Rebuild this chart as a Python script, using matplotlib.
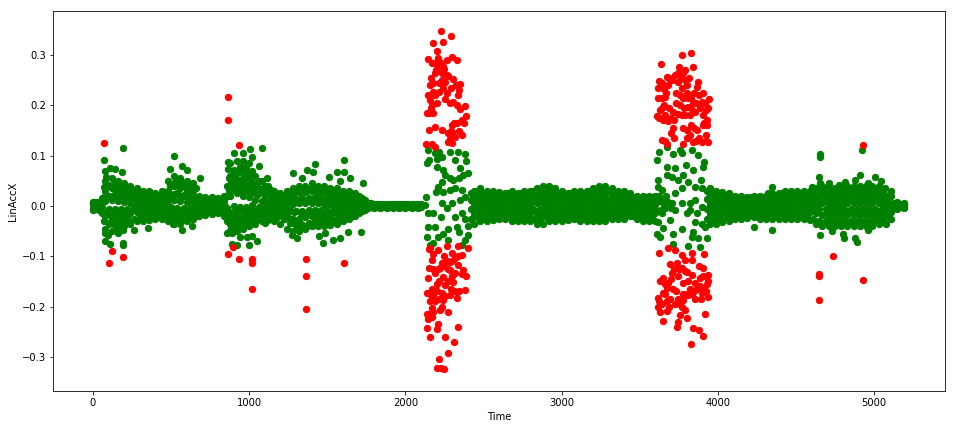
import matplotlib
matplotlib.use("Agg")
import matplotlib.pyplot as plt

# Dense band of green points, read as columns of values at sampled times
band_time = list(range(0, 2081, 40)) + list(range(2440, 3601, 40)) + list(range(3950, 5191, 40))
band_top = [.008,.008,.05,.055,.05,.045,.04,.035,.03,.03,.025,.03,.05,.06,.055,.05,.045,.02,.018,.017,.015,.02,.085,.09,.09,.085,.06,.05,.04,.03,.025,.03,.035,.04,.04,.045,.04,.04,.035,.035,.03,.03,.025,.015,.006,.004,.004,.004,.004,.004,.004,.004,.004,
            .03,.035,.03,.03,.028,.025,.03,.025,.03,.03,.035,.04,.04,.035,.03,.025,.03,.03,.03,.035,.04,.04,.035,.03,.03,.025,.02,.02,.02,.02,
            .035,.03,.028,.025,.02,.02,.018,.02,.02,.02,.025,.025,.03,.03,.03,.03,.03,.035,.04,.04,.035,.04,.04,.04,.04,.04,.04,.04,.035,.03,.008,.005]
band_upper = [.005,.005,.03,.035,.03,.03,.025,.022,.02,.02,.015,.02,.03,.04,.035,.03,.03,.012,.012,.01,.01,.012,.06,.065,.065,.06,.04,.033,.027,.02,.016,.02,.023,.027,.027,.03,.027,.027,.023,.023,.02,.02,.016,.01,.004,.002,.002,.002,.002,.002,.002,.002,.002,
              .02,.022,.02,.02,.018,.016,.02,.016,.02,.02,.022,.025,.025,.022,.02,.016,.02,.02,.02,.022,.025,.025,.022,.02,.02,.016,.012,.012,.012,.012,
              .022,.02,.018,.016,.012,.012,.012,.012,.012,.012,.016,.016,.02,.02,.02,.02,.02,.022,.025,.025,.022,.025,.025,.025,.025,.025,.025,.025,.022,.02,.005,.003]
band_center = [.003,.002,.01,.012,.01,.008,.006,.005,.004,.006,.005,.006,.01,.012,.01,.008,.008,.004,.004,.004,.003,.003,.02,.025,.02,.018,.012,.01,.006,.004,.003,.004,.004,.005,.005,.005,.005,.004,.004,.003,.003,.003,.003,.002,.001,.001,.001,.001,.001,.001,.001,.001,.001,
               .004,.005,.004,.004,.003,.003,.004,.003,.004,.004,.005,.006,.005,.005,.004,.003,.004,.004,.004,.004,.005,.005,.004,.004,.003,.003,.002,.002,.002,.002,
               .004,.003,.003,.002,.002,.001,.001,.001,.001,.002,.002,.003,.003,.003,.003,.003,.003,.004,.005,.004,.004,.004,.005,.005,.005,.005,.005,.005,.004,.004,.002,.001]
band_lower = [-.004,-.003,-.02,-.025,-.02,-.02,-.015,-.012,-.012,-.012,-.01,-.012,-.015,-.018,-.018,-.015,-.012,-.008,-.008,-.007,-.006,-.008,-.02,-.022,-.02,-.018,-.016,-.014,-.012,-.012,-.015,-.02,-.025,-.025,-.022,-.02,-.02,-.02,-.018,-.016,-.014,-.012,-.01,-.005,-.002,-.001,-.001,-.001,-.001,-.001,-.001,-.001,-.001,
              -.016,-.014,-.014,-.013,-.012,-.012,-.014,-.014,-.014,-.014,-.016,-.016,-.014,-.014,-.014,-.013,-.012,-.014,-.014,-.014,-.014,-.014,-.012,-.012,-.012,-.01,-.012,-.014,-.014,-.014,
              -.016,-.016,-.015,-.014,-.012,-.012,-.011,-.011,-.012,-.012,-.012,-.012,-.012,-.012,-.012,-.012,-.012,-.015,-.018,-.018,-.018,-.018,-.018,-.018,-.018,-.018,-.018,-.016,-.016,-.012,-.003,-.002]
band_bottom = [-.008,-.008,-.045,-.05,-.045,-.04,-.035,-.03,-.03,-.028,-.025,-.025,-.03,-.035,-.035,-.03,-.025,-.02,-.018,-.016,-.015,-.02,-.05,-.05,-.045,-.04,-.035,-.03,-.028,-.03,-.035,-.045,-.05,-.05,-.045,-.04,-.04,-.04,-.038,-.035,-.03,-.025,-.02,-.01,-.005,-.004,-.004,-.004,-.004,-.004,-.004,-.004,-.004,
               -.035,-.03,-.03,-.028,-.025,-.025,-.03,-.03,-.03,-.03,-.035,-.035,-.03,-.03,-.03,-.028,-.025,-.03,-.03,-.03,-.03,-.03,-.025,-.025,-.025,-.02,-.025,-.03,-.03,-.03,
               -.035,-.035,-.032,-.03,-.025,-.025,-.024,-.022,-.025,-.025,-.025,-.025,-.025,-.025,-.025,-.025,-.028,-.035,-.04,-.04,-.04,-.04,-.04,-.04,-.04,-.04,-.04,-.035,-.033,-.025,-.006,-.004]

# Second set of columns, lying between the columns and rows above
fill_time = list(range(20, 2101, 40)) + list(range(2420, 3581, 40)) + list(range(3930, 5171, 40))
fill_high = [.007,.015,.042,.045,.04,.037,.032,.028,.026,.024,.02,.028,.042,.05,.045,.04,.035,.016,.014,.014,.012,.04,.072,.078,.078,.07,.05,.04,.032,.024,.02,.026,.03,.033,.034,.036,.033,.032,.03,.028,.026,.024,.02,.012,.005,.003,.003,.003,.003,.003,.003,.003,.003,
             .025,.03,.026,.025,.024,.022,.026,.022,.026,.027,.03,.034,.034,.03,.026,.022,.026,.026,.026,.03,.034,.034,.03,.026,.026,.021,.017,.016,.017,.017,
             .03,.025,.023,.021,.017,.016,.015,.017,.017,.017,.021,.021,.025,.025,.025,.025,.025,.03,.034,.033,.03,.034,.034,.034,.034,.034,.034,.034,.03,.02,.006,.004]
fill_midhigh = [.004,.008,.02,.024,.02,.018,.015,.014,.012,.013,.01,.013,.02,.026,.022,.019,.018,.008,.008,.007,.006,.02,.04,.045,.042,.04,.026,.02,.016,.012,.01,.012,.013,.016,.016,.017,.016,.015,.014,.013,.012,.011,.01,.006,.002,.002,.002,.002,.002,.002,.002,.002,.002,
                .012,.014,.012,.012,.01,.01,.012,.01,.012,.012,.014,.016,.015,.014,.012,.01,.012,.012,.012,.014,.016,.016,.014,.012,.012,.01,.008,.007,.008,.008,
                .013,.012,.011,.009,.007,.007,.007,.007,.007,.007,.009,.01,.012,.012,.012,.012,.012,.013,.015,.015,.013,.015,.015,.016,.016,.016,.016,.015,.013,.012,.004,.002]
fill_midlow = [-.001,-.002,-.006,-.007,-.006,-.006,-.005,-.004,-.004,-.003,-.003,-.003,-.003,-.004,-.004,-.004,-.003,-.002,-.002,-.002,-.002,-.004,.0,-.002,-.002,.002,-.003,-.003,-.003,-.004,-.006,-.008,-.01,-.01,-.008,-.008,-.008,-.008,-.007,-.006,-.006,-.005,-.004,-.002,-.001,0,0,0,0,0,0,0,0,
               -.006,-.005,-.005,-.005,-.005,-.005,-.005,-.005,-.005,-.005,-.006,-.006,-.005,-.005,-.005,-.005,-.004,-.005,-.005,-.005,-.005,-.005,-.004,-.004,-.004,-.004,-.005,-.006,-.006,-.006,
               -.006,-.006,-.006,-.006,-.005,-.005,-.005,-.005,-.005,-.005,-.005,-.005,-.005,-.005,-.005,-.005,-.005,-.006,-.007,-.007,-.007,-.007,-.007,-.007,-.007,-.007,-.007,-.006,-.006,-.005,-.001,-.001]
fill_low = [-.006,-.015,-.035,-.038,-.034,-.03,-.025,-.022,-.022,-.02,-.018,-.02,-.024,-.028,-.028,-.024,-.02,-.015,-.013,-.012,-.011,-.03,-.036,-.036,-.034,-.03,-.026,-.022,-.02,-.022,-.026,-.034,-.038,-.038,-.034,-.03,-.03,-.03,-.028,-.026,-.023,-.02,-.015,-.008,-.003,-.003,-.003,-.003,-.003,-.003,-.003,-.003,-.003,
            -.026,-.022,-.022,-.021,-.019,-.019,-.022,-.022,-.022,-.022,-.026,-.026,-.022,-.022,-.022,-.02,-.019,-.022,-.022,-.022,-.022,-.022,-.019,-.019,-.018,-.015,-.019,-.022,-.022,-.022,
            -.026,-.026,-.024,-.022,-.019,-.019,-.018,-.017,-.019,-.019,-.019,-.019,-.019,-.019,-.019,-.019,-.021,-.026,-.03,-.03,-.03,-.03,-.03,-.03,-.03,-.03,-.03,-.026,-.025,-.019,-.005,-.003]

# Extra columns where the band is widest and most solid
patch_time = [70,100,130,160,190,220, 490,520,550,580,610, 870,900,930,960,990,1020,1050, 1100,1140,1180,1220,1260,
              1290,1330,1370,1410,1450,1490,1530,1570, 4700,4740,4780,4820,4860,4900,4940,4980,5020,5060]
patch_a = [.037,.04,.036,.034,.03,.028, .04,.046,.044,.04,.036, .055,.058,.052,.055,.05,.048,.04, .022,.02,.018,.018,.02,
           .03,.032,.03,.034,.03,.03,.028,.026, .03,.03,.032,.032,.032,.034,.032,.032,.03,.03]
patch_b = [.017,.02,.017,.016,.016,.014, .02,.024,.022,.02,.018, .03,.032,.03,.03,.03,.028,.022, .008,.008,.008,.008,.009,
           .012,.014,.012,.014,.012,.012,.011,.011, .012,.012,.012,.013,.013,.014,.014,.014,.013,.012]
patch_c = [-.015,-.016,-.014,-.013,-.012,-.01, -.01,-.011,-.012,-.011,-.01, -.012,-.012,-.011,-.01,-.01,-.009,-.008, -.009,-.008,-.008,-.01,-.011,
           -.013,-.014,-.017,-.016,-.014,-.013,-.012,-.012, -.012,-.012,-.012,-.013,-.013,-.013,-.013,-.013,-.012,-.012]
patch_d = [-.03,-.033,-.03,-.028,-.026,-.022, -.024,-.026,-.026,-.024,-.02, -.027,-.028,-.026,-.025,-.024,-.023,-.02, -.018,-.018,-.018,-.022,-.026,
           -.033,-.036,-.04,-.038,-.032,-.03,-.028,-.026, -.027,-.03,-.03,-.032,-.033,-.032,-.033,-.032,-.03,-.028]

# Sparse green points above and below the band
green_t = [880,920,960,1000,1040,880,920,960,1000,900,940,980,885,915,945,975,1005,885,915,945,975,
           194,71,521,1080,1005,903,963,1016,867,867,109,141,77,188,81,493,568,600,685,1063,1112,1421,1283,1368,1411,1336,1607,1564,1609,1513,1646,1731,1582,
           77,109,190,190,77,98,162,194,265,350,510,568,636,860,888,888,941,920,999,1052,984,1016,1101,1272,1308,1330,1447,1486,1473,1539,1582,1635,1716,
           4652,4652,4925,4650,5006,5047,4910,4878,4964,4712,4349,4323,4601,4654,4814,4776,
           4349,4656,4729,4889,4878,4808,4964,5075,4804,4232,
           3640,3660,3680,3645,3700,3625,3670,3635,3615,3610]
green_v = [.04,.04,.04,.04,.025,-.035,-.035,-.03,-.03,.07,.075,.07,.045,.047,.048,.045,.044,-.043,-.042,-.04,-.038,
           .115,.091,.100,.115,.113,.106,.105,.098,.088,.073,.075,.073,.070,.067,.057,.073,.079,.071,.055,.079,.055,.083,.065,.071,.068,.055,.091,.068,.067,.057,.055,.046,.050,
           -.069,-.076,-.074,-.078,-.053,-.058,-.054,-.048,-.047,-.044,-.035,-.047,-.039,-.054,-.054,-.076,-.061,-.078,-.078,-.069,-.061,-.060,-.033,-.057,-.063,-.041,-.059,-.054,-.074,-.068,-.064,-.051,-.051,
           .103,.098,.111,.057,.058,.050,.062,.052,.045,.046,.037,.026,.037,.045,.048,.042,
           -.048,-.058,-.049,-.071,-.064,-.064,-.047,-.036,-.055,-.041,
           .012,-.005,.008,-.015,-.005,.02,.02,-.008,.01,-.01]

# Green points inside the two bursts
burst1_green_t = [2144,2136,2153,2189,2217,2232,2204,2285,2338,2381,2388,2317,2200,2242,2353,2402,2370,2345,2253,2285,2306,2232,2210,2195,2242,2285,2317,2360,2131,2125,2232,2264,2296,2349,2381,2146,2178,2225,2317,2360,2381,2402,2146,2189,2274,2328,2345,2136,2242,2210,2274,2402,2381,2360,2157,2178]
burst1_green_v = [.111,.085,.091,.106,.108,.098,.093,.108,.108,.103,.090,.091,.078,.071,.075,.065,.061,.055,.061,.055,.052,.048,.038,.028,.028,.032,.035,.032,.017,.002,.005,-.005,.005,.012,.018,-.015,-.015,-.021,-.021,-.015,-.025,-.040,-.041,-.041,-.045,-.041,-.051,-.061,-.055,-.061,-.068,-.058,-.068,-.078,-.078,-.074]
burst2_green_t = [3677,3626,3609,3715,3758,3769,3833,3875,3912,3907,3677,3726,3796,3843,3673,3705,3779,3811,3747,3619,3890,3619,3769,3854,3897,3726,3641,3822,3769,3854,3705,3651,3726,3801,3897,3865,3822,3619,3651,3694,3769,3854,3897,3918,3609,3715,3630,3843,3833,3875,3929,3715,3811,3886]
burst2_green_v = [.117,.108,.091,.103,.111,.105,.111,.101,.088,.078,.078,.075,.081,.071,.061,.058,.061,.048,.052,.052,.052,.038,.035,.038,.035,.025,.032,.005,.005,.012,.005,.005,-.008,-.015,-.002,-.015,-.008,-.031,-.043,-.028,-.045,-.031,-.035,-.041,-.056,-.055,-.061,-.051,-.061,-.064,-.063,-.076,-.080,-.081]

# Red points: burst 1
burst1_red_t = [2225,2289,2174,2238,2204,2146,2210,2296,2332,2264,2168,2242,2210,2189,2232,2274,2161,2306,2253,2353,2178,2345,2242,2217,2178,2146,2264,2253,2204,2168,2306,2328,2381,2349,2140,2178,2388,2375,2328,2296,2153,2189,2232,2296,2285,2360,2317,2274,2131,2168,2189,
                2190,2195,2225,2250,2160,2190,2215,2235,2265,2295,2325,2340,2155,2150,2165,2285,2360,2290,2310,2300,2345,2270,
                2157,2210,2264,2338,2402,2296,2360,2317,2285,2232,2168,2338,2153,2221,2285,2370,2189,2317,2242,2388,2146,2200,2306,2253,2232,2136,2178,2285,2381,2328,2189,2242,2168,2221,2274,2140,2168,2146,2210,2334,2140,2204,2157,2253,2311,2270,2215,2200,2225,2247,
                2150,2175,2180,2210,2245,2265,2270,2250,2300,2340,2360,2300,2270,2215,2200,2170,2155,2160,2215,2255,2290,2310,2330,2345,2180,2235,2150]
burst1_red_v = [.347,.338,.325,.327,.309,.292,.294,.297,.290,.290,.284,.278,.277,.265,.264,.258,.254,.252,.247,.242,.244,.231,.234,.227,.227,.221,.224,.212,.204,.201,.207,.201,.199,.192,.185,.184,.178,.164,.164,.161,.151,.158,.151,.148,.134,.141,.138,.128,.124,.124,.118,
                .285,.27,.285,.272,.24,.22,.245,.25,.26,.235,.24,.22,.21,.185,.195,.205,.17,.15,.165,.125,.15,.145,
                -.084,-.088,-.080,-.080,-.083,-.094,-.098,-.104,-.111,-.114,-.108,-.118,-.124,-.124,-.128,-.128,-.134,-.134,-.141,-.139,-.144,-.155,-.151,-.157,-.174,-.174,-.180,-.177,-.167,-.184,-.190,-.187,-.202,-.207,-.210,-.214,-.220,-.224,-.234,-.240,-.242,-.245,-.260,-.261,-.271,-.293,-.305,-.322,-.323,-.325,
                -.085,-.095,-.125,-.125,-.1,-.11,-.125,-.12,-.11,-.1,-.135,-.14,-.15,-.15,-.17,-.165,-.175,-.19,-.185,-.18,-.165,-.17,-.172,-.17,-.21,-.2,-.215]

# Red points: burst 2
burst2_red_t = [3773,3829,3634,3752,3839,3775,3726,3673,3818,3622,3747,3875,3683,3619,3769,3865,3662,3619,3801,3758,3903,3946,3843,3897,3656,3758,3811,3939,3630,3715,3854,3609,3662,3822,3747,3929,3683,3907,3715,3801,3869,3922,3641,3722,3822,3779,3843,3939,3673,3897,
                3640,3655,3640,3670,3640,3625,3650,3690,3700,3720,3735,3735,3745,3765,3790,3790,3800,3780,3785,3770,3790,3810,3830,3830,3845,3880,3885,3860,3920,3925,3905,3930,3915,3780,3830,3850,3800,3660,3700,3860,3880,3925,3690,3710,
                3626,3683,3726,3769,3833,3912,3790,3833,3694,3737,3769,3907,3801,3705,3833,3939,3651,3886,3775,3630,3683,3854,3939,3673,3907,3651,3811,3939,3897,3619,3854,3779,3726,3619,3673,3790,3677,3758,3918,3801,3647,3747,3741,3843,3882,3907,3831,
                3660,3665,3700,3715,3695,3640,3630,3625,3690,3730,3745,3750,3790,3810,3820,3835,3850,3870,3885,3890,3925,3930,3800,3780,3770,3760,3905,3880,3720,3745]
burst2_red_v = [.300,.305,.282,.277,.277,.264,.260,.256,.254,.249,.247,.247,.240,.234,.234,.237,.217,.214,.224,.221,.224,.212,.207,.207,.201,.201,.197,.194,.191,.187,.187,.179,.181,.181,.183,.171,.168,.161,.156,.152,.151,.142,.132,.136,.141,.124,.128,.128,.123,.128,
                .245,.232,.215,.225,.195,.175,.17,.195,.175,.17,.205,.225,.265,.255,.25,.27,.24,.215,.195,.18,.18,.215,.215,.195,.225,.22,.195,.205,.205,.19,.18,.16,.165,.155,.16,.155,.135,.13,.145,.13,.135,.13,.255,.25,
                -.094,-.084,-.088,-.098,-.094,-.096,-.108,-.108,-.116,-.114,-.124,-.124,-.131,-.134,-.137,-.137,-.144,-.144,-.154,-.149,-.154,-.154,-.149,-.164,-.164,-.174,-.177,-.181,-.174,-.184,-.186,-.187,-.194,-.200,-.190,-.207,-.208,-.217,-.214,-.222,-.229,-.230,-.240,-.242,-.247,-.258,-.274,
                -.155,-.175,-.145,-.165,-.185,-.195,-.21,-.19,-.2,-.17,-.14,-.125,-.13,-.15,-.165,-.175,-.17,-.165,-.16,-.185,-.17,-.155,-.175,-.175,-.2,-.195,-.14,-.12,-.125,-.185]

# Isolated red outliers
outlier_t = [71,862,862,935,124,105,190,865,894,933,1020,1018,1018,1366,1366,1366,1609,4927,4740,4648,4650,4929,4648]
outlier_v = [.125,.216,.170,.122,-.089,-.114,-.101,-.096,-.081,-.106,-.106,-.114,-.166,-.106,-.139,-.204,-.114,.121,-.100,-.135,-.139,-.147,-.188]

SIZE = 40

fig = plt.figure(figsize=(955 / 72, 429 / 72), dpi=72)
ax = fig.add_axes([53 / 955, 38 / 429, 892 / 955, 380 / 429])

for row in (band_top, band_upper, band_center, band_lower, band_bottom):
    ax.scatter(band_time, row, color="green", s=SIZE)
for row in (fill_high, fill_midhigh, fill_midlow, fill_low):
    ax.scatter(fill_time, row, color="green", s=SIZE)
for row in (patch_a, patch_b, patch_c, patch_d):
    ax.scatter(patch_time, row, color="green", s=SIZE)
ax.scatter(green_t, green_v, color="green", s=SIZE)
ax.scatter(burst1_green_t, burst1_green_v, color="green", s=SIZE)
ax.scatter(burst2_green_t, burst2_green_v, color="green", s=SIZE)
ax.scatter(burst1_red_t, burst1_red_v, color="red", s=SIZE)
ax.scatter(burst2_red_t, burst2_red_v, color="red", s=SIZE)
ax.scatter(outlier_t, outlier_v, color="red", s=SIZE)

ax.set_xlim(-256, 5455)
ax.set_ylim(-0.368, 0.3877)
ax.set_xticks([0, 1000, 2000, 3000, 4000, 5000])
ax.set_yticks([-0.3, -0.2, -0.1, 0.0, 0.1, 0.2, 0.3])
ax.tick_params(labelsize=10)
ax.set_xlabel("Time", fontsize=10)
ax.set_ylabel("LinAccX", fontsize=10)

fig.savefig("out.png", dpi=72)
